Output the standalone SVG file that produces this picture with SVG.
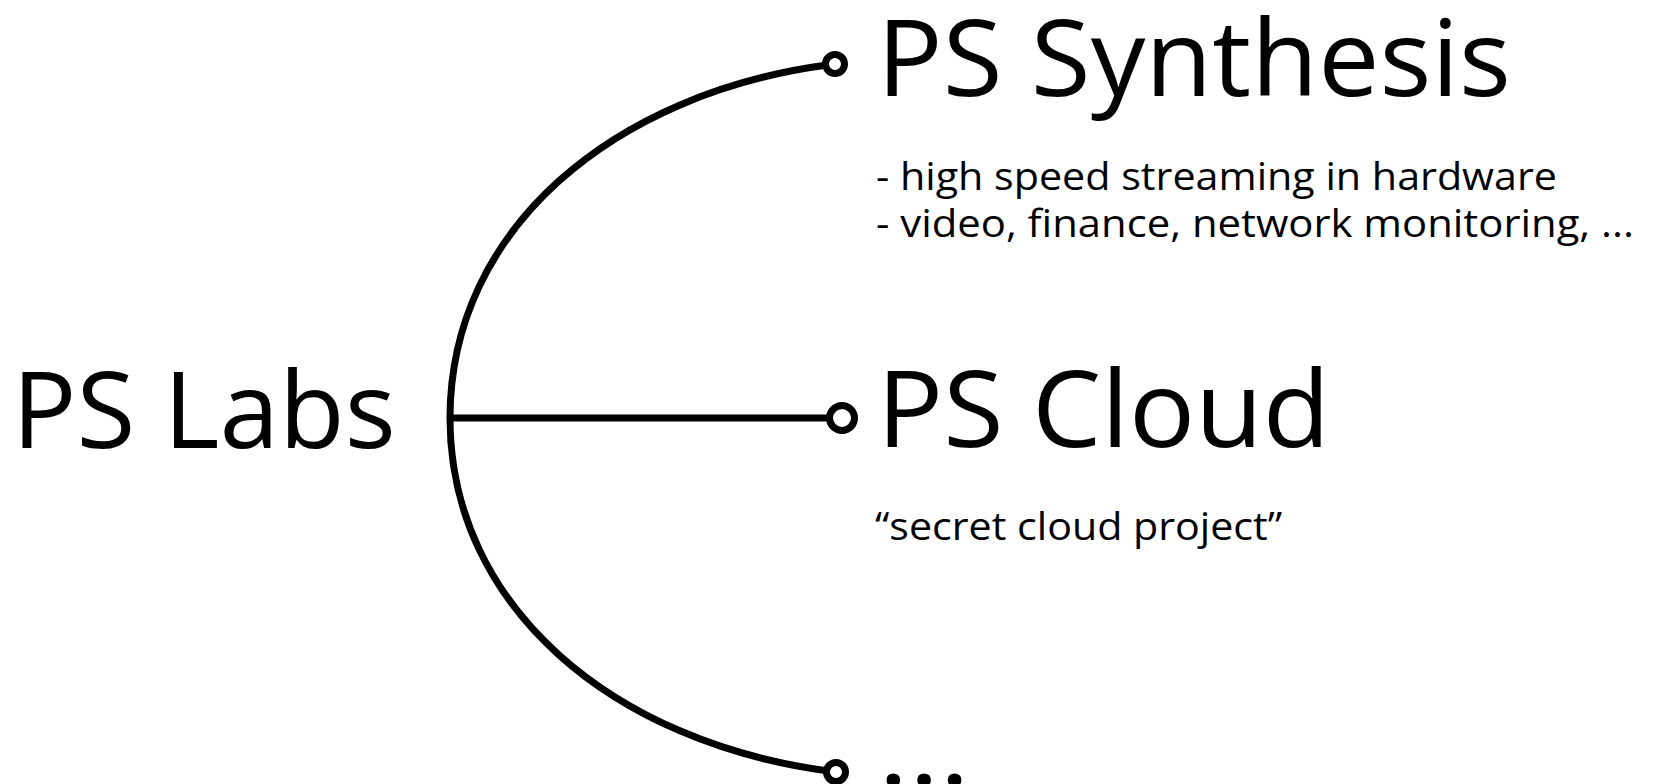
<svg xmlns="http://www.w3.org/2000/svg" width="1664" height="784" viewBox="0 0 1664 784">
  <style>
    .big { font-family: "Open Sans", "Liberation Sans", sans-serif; font-size: 106px; fill: #000; }
    .small { font-family: "Open Sans", "Liberation Sans", sans-serif; font-size: 38px; fill: #000; }
    .conn { fill: none; stroke: #000; stroke-width: 7; }
    .end { fill: #fff; stroke: #000; stroke-width: 7; }
  </style>
  <rect x="0" y="0" width="1664" height="784" fill="#fff"/>
  <g id="connectors">
    <path class="conn" d="M829,64.8 C615,93 450,228 450,418 C450,608 615,743 830,771.2"/>
    <line class="conn" x1="450" y1="418" x2="830" y2="418"/>
    <circle class="end" cx="835" cy="64" r="9.5"/>
    <circle class="end" cx="842" cy="418" r="12.5"/>
    <circle class="end" cx="836" cy="772" r="9.5"/>
  </g>
  <g id="ps-labs">
    <text class="big" x="12" y="448" textLength="384" lengthAdjust="spacingAndGlyphs">PS Labs</text>
  </g>
  <g id="ps-synthesis">
    <text class="big" x="877" y="96" textLength="634" lengthAdjust="spacingAndGlyphs">PS Synthesis</text>
    <text class="small" x="876" y="190" textLength="681" lengthAdjust="spacingAndGlyphs">- high speed streaming in hardware</text>
    <text class="small" x="876" y="237" textLength="758" lengthAdjust="spacingAndGlyphs">- video, finance, network monitoring, ...</text>
  </g>
  <g id="ps-cloud">
    <text class="big" x="877" y="447" textLength="453" lengthAdjust="spacingAndGlyphs">PS Cloud</text>
    <text class="small" x="875" y="540" font-size="39" textLength="407" lengthAdjust="spacingAndGlyphs">“secret cloud project”</text>
  </g>
  <g id="more">
    <text class="big" x="878" y="786" font-size="120" textLength="92" lengthAdjust="spacingAndGlyphs">...</text>
  </g>
</svg>
